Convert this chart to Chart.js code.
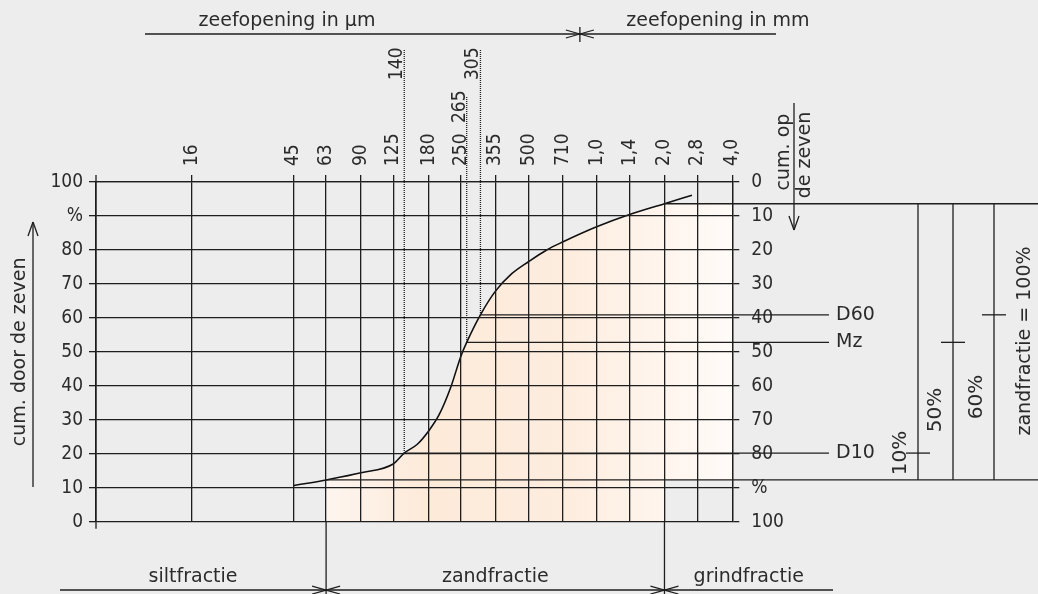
<!DOCTYPE html>
<html>
<head>
<meta charset="utf-8">
<script src="https://cdn.jsdelivr.net/npm/chart.js@4.4.1/dist/chart.umd.min.js"></script>
<style>
  body { margin: 0; background: #ededed; }
  #wrap { width: 1038px; height: 594px; position: relative; }
</style>
</head>
<body>
<div id="wrap"><canvas id="sieveChart"></canvas></div>
<script>
// zeefkromme (korrelverdeling)
const sieveTicks = [16, 45, 63, 90, 125, 180, 250, 355, 500, 710, 1000, 1400, 2000, 2800, 4000];
const percentTicks = [0, 10, 20, 30, 40, 50, 60, 70, 80, 90, 100];
const percentLabels = ['0', '10', '20', '30', '40', '50', '60', '70', '80', '%', '100'];

// cumulatief door de zeven (%)
const curveSizes = [45, 63, 90, 125, 140, 160, 180, 200, 225, 250, 265, 305, 355, 420, 500, 600, 710, 1000, 1400, 2000, 2650];
const curvePassing = [10.6, 12.3, 14.4, 17.0, 20.2, 22.8, 26.8, 31.5, 39.5, 48.8, 52.8, 60.9, 67.8, 73.0, 76.6, 80.0, 82.4, 86.8, 90.4, 93.6, 96.1];

// zandfractie: 63 µm .. 2 mm
const sandSizes = [63, 2000];
const sandPassing = [12.3, 93.6];

// D10, Mz, D60
const markerNames = ['D10', 'Mz', 'D60'];
const markerSizes = [140, 265, 305];
const markerPassing = [20.2, 52.8, 60.9];
const markerShares = [10, 50, 60];

const ink = '#1e1e1e';
const textInk = '#2b2b2b';
const numFont = { family: '"Liberation Sans Narrow", "DejaVu Sans Condensed", sans-serif', size: 19, lineHeight: 1.2 };
const numFontStr = '19px "Liberation Sans Narrow", "DejaVu Sans Condensed", sans-serif';
const wordFont = '19px "DejaVu Sans", sans-serif';

function sizeLabel(v) {
  if (v >= 1000) return (v / 1000).toFixed(1).replace('.', ',');
  return String(v);
}

function sandGradient(context) {
  const chart = context.chart;
  const { ctx, chartArea, scales } = chart;
  if (!chartArea) return 'rgba(253,235,220,1)';
  const x0 = scales.x.getPixelForValue(sandSizes[0]);
  const x1 = scales.x.getPixelForValue(4000);
  const g = ctx.createLinearGradient(x0, 0, x1, 0);
  g.addColorStop(0, '#fdf5ef');
  g.addColorStop(0.25, '#fdead9');
  g.addColorStop(0.6, '#fdeddf');
  g.addColorStop(1, '#fffbf8');
  return g;
}

const curvePoints = curveSizes.map((s, i) => ({ x: s, y: curvePassing[i] }));
const sandCurve = curvePoints.filter(p => p.x >= sandSizes[0] && p.x <= sandSizes[1]);

// extra tekening: hulplijnen, teksten, pijlen
const drawingPlugin = {
  id: 'drawing',
  afterDraw(chart) {
    const { ctx, chartArea: a, scales } = chart;
    const x = scales.x, y = scales.y;
    ctx.save();
    ctx.strokeStyle = ink;
    ctx.fillStyle = textInk;
    ctx.lineWidth = 1.3;

    function line(x1, y1, x2, y2, dash) {
      ctx.beginPath();
      ctx.setLineDash(dash || []);
      ctx.moveTo(x1, y1);
      ctx.lineTo(x2, y2);
      ctx.stroke();
      ctx.setLineDash([]);
    }
    function text(str, px, py, font, rotate, align, base) {
      ctx.save();
      ctx.font = font;
      ctx.translate(px, py);
      if (rotate) ctx.rotate(-Math.PI / 2);
      ctx.textAlign = align || 'center';
      ctx.textBaseline = base || 'middle';
      ctx.fillText(str, 0, 0);
      ctx.restore();
    }
    function arrowsAt(px, py) {
      line(px - 14, py - 4, px, py);
      line(px - 14, py + 4, px, py);
      line(px + 14, py - 4, px, py);
      line(px + 14, py + 4, px, py);
    }

    const H = chart.height;
    const x63 = x.getPixelForValue(sandSizes[0]);
    const x2000 = x.getPixelForValue(sandSizes[1]);
    const yLow = y.getPixelForValue(sandPassing[0]);
    const yHigh = y.getPixelForValue(sandPassing[1]);

    // linker as iets verlengd
    line(a.left, a.top - 7, a.left, a.bottom + 7);

    // fractiegrenzen onder
    line(x63, a.bottom, x63, H);
    line(x2000, a.bottom, x2000, H);
    const fy = 590;
    line(60, fy, 833, fy);
    arrowsAt(x63, fy);
    arrowsAt(x2000, fy);
    text('siltfractie', (60 + x63) / 2, 577, wordFont);
    text('zandfractie', (x63 + x2000) / 2, 577, wordFont);
    text('grindfractie', (x2000 + 833) / 2, 577, wordFont);

    // kop
    const xSplit = x.getPixelForValue(Math.sqrt(710 * 1000));
    line(145, 34, 776, 34);
    line(xSplit, 27, xSplit, 42);
    arrowsAt(xSplit, 34);
    text('zeefopening in µm', 287, 21, wordFont);
    text('zeefopening in mm', 718, 21, wordFont);

    // D10 / Mz / D60
    const labelBottoms = [80, 123, 80];
    const lineTops = [50, 97, 50];
    const bracketX = [918, 953, 994];
    markerSizes.forEach((s, i) => {
      const px = x.getPixelForValue(s);
      const py = y.getPixelForValue(markerPassing[i]);
      line(px, lineTops[i], px, py, [1, 1]);
      line(px, py, 829, py);
      text(String(s), px - 2, labelBottoms[i], numFontStr, true, 'left', 'alphabetic');
      text(markerNames[i], 836, py, wordFont, false, 'left');
      line(bracketX[i] - 12, py, bracketX[i] + 12, py);
    });

    // zandfractie = 100%
    line(x2000, yHigh, chart.width, yHigh);
    line(x63, yLow, chart.width, yLow);
    bracketX.forEach(bx => line(bx, yHigh, bx, yLow));
    const shareFont = '20px "DejaVu Sans", sans-serif';
    text(markerShares[0] + '%', 901, 453, shareFont, true);
    text(markerShares[1] + '%', 936, 410, shareFont, true);
    text(markerShares[2] + '%', 977, 397, shareFont, true);
    text('zandfractie = 100%', 1025, 341, wordFont, true);

    // cum. op de zeven
    line(794, 103, 794, 230);
    line(789, 216, 794, 230);
    line(799, 216, 794, 230);
    text('cum. op', 784, 152, wordFont, true);
    text('de zeven', 805, 155, wordFont, true);

    // cum. door de zeven
    line(33, 487, 33, 222);
    line(28, 236, 33, 222);
    line(38, 236, 33, 222);
    text('cum. door de zeven', 20, (a.top + a.bottom) / 2, wordFont, true);

    ctx.restore();
  }
};

const ctx = document.getElementById('sieveChart').getContext('2d');
const sieveChart = new Chart(ctx, {
  type: 'line',
  data: {
    datasets: [
      {
        label: 'zeefkromme',
        data: curvePoints,
        borderColor: '#111',
        borderWidth: 1.6,
        pointRadius: 0,
        cubicInterpolationMode: 'monotone',
        fill: false,
        order: 0
      },
      {
        label: 'zand onder kromme',
        data: sandCurve,
        borderWidth: 0,
        pointRadius: 0,
        cubicInterpolationMode: 'monotone',
        backgroundColor: sandGradient,
        fill: 'start',
        order: 1
      },
      {
        label: 'zand boven',
        data: [{ x: sandSizes[1], y: sandPassing[1] }, { x: 4000, y: sandPassing[1] }],
        borderWidth: 0,
        pointRadius: 0,
        backgroundColor: sandGradient,
        fill: 3,
        order: 1
      },
      {
        label: 'zand onder',
        data: [{ x: sandSizes[1], y: sandPassing[0] }, { x: 4000, y: sandPassing[0] }],
        borderWidth: 0,
        pointRadius: 0,
        fill: false,
        order: 1
      }
    ]
  },
  options: {
    responsive: true,
    maintainAspectRatio: false,
    animation: false,
    layout: { padding: { left: 0, right: 0, top: 0, bottom: 72.3 } },
    plugins: {
      legend: { display: false },
      tooltip: { enabled: false }
    },
    scales: {
      x: {
        type: 'logarithmic',
        position: 'top',
        min: 6,
        max: 4000,
        afterBuildTicks: s => { s.ticks = sieveTicks.map(v => ({ value: v })); },
        afterFit: s => { s.height = 182; },
        grid: { color: ink, lineWidth: 1.3, tickLength: 7, z: 1 },
        border: { display: true, color: ink, width: 1.3, z: 1 },
        ticks: {
          autoSkip: false, minRotation: 90, maxRotation: 90, padding: 9, labelOffset: 22.8,
          color: textInk, font: numFont, callback: v => sizeLabel(v)
        }
      },
      y: {
        min: 0,
        max: 100,
        afterBuildTicks: s => { s.ticks = percentTicks.map(v => ({ value: v })); },
        afterFit: s => { s.width = 96; },
        grid: { color: ink, lineWidth: 1.3, tickLength: 7, z: 1 },
        border: { display: true, color: ink, width: 1.3, z: 1 },
        ticks: { padding: 6, color: textInk, font: numFont, callback: (v, i) => percentLabels[i] }
      },
      y2: {
        position: 'right',
        reverse: true,
        min: 0,
        max: 100,
        afterBuildTicks: s => { s.ticks = percentTicks.map(v => ({ value: v })); },
        afterFit: s => { s.width = 1038 - 732.3; },
        grid: { drawOnChartArea: false, color: ink, lineWidth: 1.3, tickLength: 7, z: 1 },
        border: { display: true, color: ink, width: 1.3, z: 1 },
        ticks: { padding: 12, color: textInk, font: numFont, callback: (v, i) => percentLabels[i] }
      }
    }
  },
  plugins: [drawingPlugin]
});
</script>
</body>
</html>
